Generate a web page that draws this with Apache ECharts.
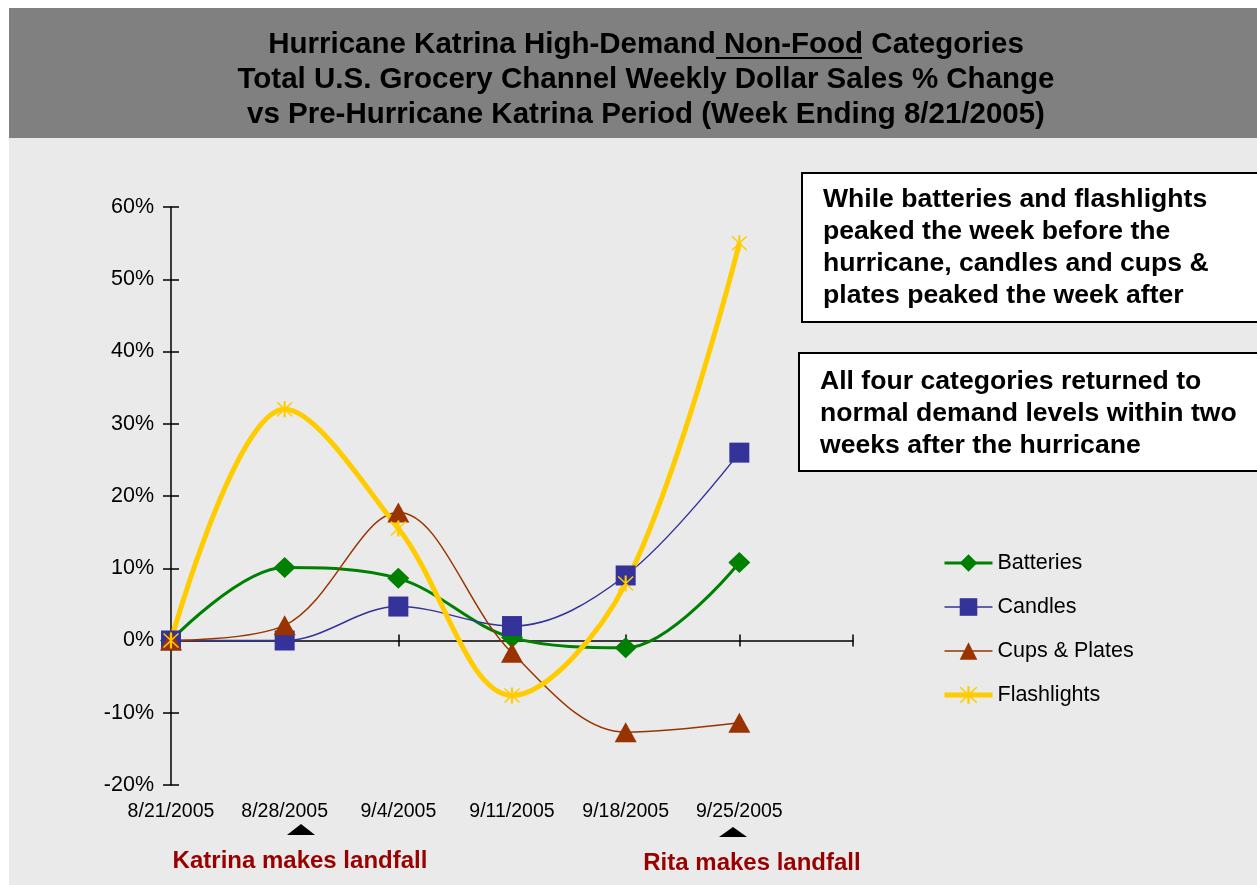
<!DOCTYPE html>
<html>
<head>
<meta charset="utf-8">
<script src="https://cdn.jsdelivr.net/npm/echarts@6/dist/echarts.min.js"></script>
<style>
html,body{margin:0;padding:0;background:#ffffff;}
#chart{width:1257px;height:885px;}
</style>
</head>
<body>
<div id="chart"></div>
<script>
// ---- data ----
var categories = ['8/21/2005', '8/28/2005', '9/4/2005', '9/11/2005', '9/18/2005', '9/25/2005'];
var axisCategories = categories.concat(['']);
var batteries   = [0, 10.1, 8.6, 0.4, -1.0, 10.8];
var candles     = [0, 0.0, 4.7, 2.0, 9.0, 26.0];
var cupsPlates  = [0, 2.1, 17.7, -1.7, -12.7, -11.4];
var flashlights = [0, 32.0, 15.5, -7.6, 7.9, 55.0];
var seriesNames = ['Batteries', 'Candles', 'Cups & Plates', 'Flashlights'];
var yTicks = { min: -20, max: 60, interval: 10 };
var titleLines = [
  'Hurricane Katrina High-Demand Non-Food Categories',
  'Total U.S. Grocery Channel Weekly Dollar Sales % Change',
  'vs Pre-Hurricane Katrina Period (Week Ending 8/21/2005)'
];
var note1 = ['While batteries and flashlights', 'peaked the week before the', 'hurricane, candles and cups &', 'plates peaked the week after'];
var note2 = ['All four categories returned to', 'normal demand levels within two', 'weeks after the hurricane'];
var event1 = 'Katrina makes landfall';
var event2 = 'Rita makes landfall';

// ---- styling ----
var FONT = '"Liberation Sans", Arial, Helvetica, sans-serif';
var asterisk = 'path://M-1,-8 L1,-8 L1,8 L-1,8 Z M-6.5,-7.5 L7.5,6.5 L6.5,7.5 L-7.5,-6.5 Z M6.5,-7.5 L7.5,-6.5 L-6.5,7.5 L-7.5,6.5 Z';
var SMOOTH = 0.35;
var colors = ['#008000', '#333399', '#993300', '#ffcc00'];
var widths = [3, 1.5, 1.5, 5];

var chart = echarts.init(document.getElementById('chart'), null, { renderer: 'canvas' });

function baseX(extra) {
  return Object.assign({
    type: 'category', data: axisCategories, boundaryGap: false, gridIndex: 0,
    splitLine: { show: false }
  }, extra);
}
function baseY(extra) {
  return Object.assign({
    type: 'value', min: yTicks.min, max: yTicks.max, interval: yTicks.interval,
    splitLine: { show: false }, position: 'left'
  }, extra);
}

var option = {
  animation: false,
  textStyle: { fontFamily: FONT },
  title: {
    text: titleLines.join('\n'),
    left: 646, top: 27, padding: 0,
    textAlign: 'center',
    textStyle: { fontFamily: FONT, fontSize: 29.5, fontWeight: 'bold', color: '#000', lineHeight: 35 }
  },
  grid: { left: 171, right: 404, top: 207, bottom: 100, containLabel: false },
  legend: {
    orient: 'vertical', left: 937, top: 547,
    itemWidth: 48, itemHeight: 22, itemGap: 22,
    data: seriesNames.map(function (n, i) {
      return { name: n, lineStyle: { width: widths[i] } };
    }),
    textStyle: { fontFamily: FONT, fontSize: 21.5, color: '#000', lineHeight: 22 }
  },
  xAxis: [
    baseX({
      axisLine: { show: false, onZero: false }, axisTick: { show: false },
      axisLabel: { interval: 0, color: '#000', fontSize: 19.5, fontFamily: FONT, margin: 17 }
    }),
    baseX({
      axisLine: { show: true, onZero: true, lineStyle: { color: '#000', width: 1.5 } },
      axisTick: { show: true, interval: 0, length: 6, lineStyle: { color: '#000', width: 1.5 } },
      axisLabel: { show: false }
    }),
    baseX({
      axisLine: { show: false, onZero: true },
      axisTick: { show: true, inside: true, interval: 0, length: 6, lineStyle: { color: '#000', width: 1.5 } },
      axisLabel: { show: false }
    })
  ],
  yAxis: [
    baseY({
      axisLine: { show: true, lineStyle: { color: '#000', width: 1.5 } },
      axisTick: { show: true, length: 8, lineStyle: { color: '#000', width: 1.5 } },
      axisLabel: { formatter: '{value}%', color: '#000', fontSize: 21.5, fontFamily: FONT, margin: 17 }
    }),
    baseY({
      axisLine: { show: false },
      axisTick: { show: true, inside: true, length: 8, lineStyle: { color: '#000', width: 1.5 } },
      axisLabel: { show: false }
    })
  ],
  series: [
    {
      name: seriesNames[0], type: 'line', data: batteries, smooth: SMOOTH,
      symbol: 'diamond', symbolSize: [22, 21],
      lineStyle: { color: colors[0], width: widths[0] }, itemStyle: { color: colors[0] }
    },
    {
      name: seriesNames[1], type: 'line', data: candles, smooth: SMOOTH,
      symbol: 'rect', symbolSize: 20,
      lineStyle: { color: colors[1], width: widths[1] }, itemStyle: { color: colors[1] }
    },
    {
      name: seriesNames[2], type: 'line', data: cupsPlates, smooth: SMOOTH,
      symbol: 'triangle', symbolSize: [22, 20],
      lineStyle: { color: colors[2], width: widths[2] }, itemStyle: { color: colors[2] }
    },
    {
      name: seriesNames[3], type: 'line', data: flashlights, smooth: SMOOTH,
      symbol: asterisk, symbolSize: 16,
      lineStyle: { color: colors[3], width: widths[3] }, itemStyle: { color: colors[3] }
    }
  ],
  graphic: [
    { type: 'rect', z: -100, shape: { x: 9, y: 8, width: 1248, height: 130 }, style: { fill: '#808080' } },
    { type: 'rect', z: -100, shape: { x: 9, y: 138, width: 1248, height: 747 }, style: { fill: '#eaeaea' } },
    { type: 'line', z: 10, shape: { x1: 716, y1: 58, x2: 862, y2: 58 }, style: { stroke: '#000', lineWidth: 2 } },
    { type: 'rect', z: 5, shape: { x: 802, y: 173, width: 460, height: 149 }, style: { fill: '#fff', stroke: '#000', lineWidth: 2 } },
    { type: 'text', z: 6, x: 823, y: 184, style: { text: note1.join('\n'), font: 'bold 26.6px ' + FONT, fill: '#000', lineHeight: 32, textVerticalAlign: 'top' } },
    { type: 'rect', z: 5, shape: { x: 799, y: 353, width: 463, height: 118 }, style: { fill: '#fff', stroke: '#000', lineWidth: 2 } },
    { type: 'text', z: 6, x: 820, y: 366, style: { text: note2.join('\n'), font: 'bold 26.6px ' + FONT, fill: '#000', lineHeight: 32, textVerticalAlign: 'top' } },
    { type: 'polygon', z: 5, shape: { points: [[287, 835], [315, 835], [301, 824]] }, style: { fill: '#000' } },
    { type: 'polygon', z: 5, shape: { points: [[719, 837], [747, 837], [733, 827]] }, style: { fill: '#000' } },
    { type: 'text', z: 6, x: 300, y: 861, style: { text: event1, font: 'bold 24px ' + FONT, fill: '#990000', textAlign: 'center', textVerticalAlign: 'middle' } },
    { type: 'text', z: 6, x: 752, y: 863, style: { text: event2, font: 'bold 24px ' + FONT, fill: '#990000', textAlign: 'center', textVerticalAlign: 'middle' } }
  ]
};
chart.setOption(option);
</script>
</body>
</html>
